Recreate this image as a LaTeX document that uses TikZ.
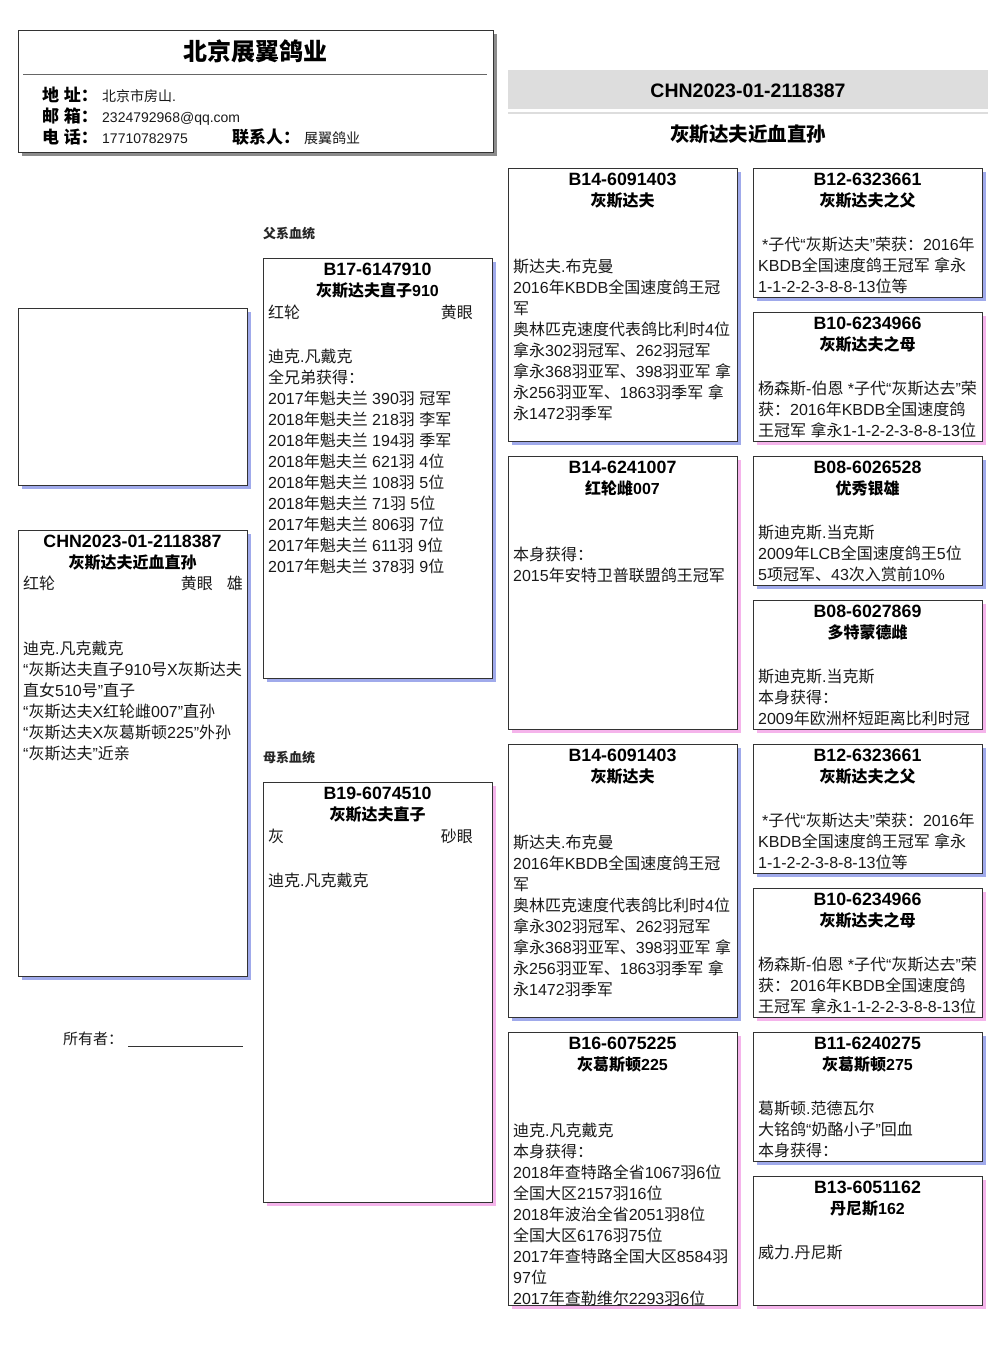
\documentclass[tikz,border=0pt]{standalone}
\usepackage{fontspec}
\setmainfont{Liberation Sans}
\newfontfamily\latinfont{Liberation Sans}
\newfontfamily\cjkfont{Noto Sans CJK SC}
\usetikzlibrary{positioning}

% ideographs and full-width marks go to the CJK face
\XeTeXinterchartokenstate=1
\newXeTeXintercharclass\cjkclass
\newcount\cjkcode
\newcommand{\cjkrange}[2]{%
  \cjkcode=#1
  \loop
    \XeTeXcharclass\cjkcode=\cjkclass
    \advance\cjkcode by 1
  \ifnum\cjkcode<#2 \repeat}
\cjkrange{"3000}{"3040}
\cjkrange{"4E00}{"A000}
\cjkrange{"FF00}{"FFF0}
\XeTeXinterchartoks 0 \cjkclass = {\cjkfont}
\XeTeXinterchartoks 4095 \cjkclass = {\cjkfont}
\XeTeXinterchartoks \cjkclass 0 = {\latinfont}
\XeTeXinterchartoks \cjkclass 4095 = {\latinfont}

\definecolor{sireshade}{HTML}{A0AAEB}
\definecolor{damshade}{HTML}{F5B4EB}
\definecolor{bandgrey}{HTML}{DDDDDD}

\tikzset{
  cardbox/.style={draw=black!80, fill=white, line width=0.8pt, minimum width=229pt, inner sep=0pt, outer sep=0pt},
  cardhead/.style={font=\bfseries\fontsize{16}{21}\selectfont, align=center, inner sep=0pt, anchor=north},
  cardbody/.style={font=\fontsize{16}{21}\selectfont, align=left, inner sep=0pt, anchor=north west, text=black!90},
  rowtext/.style={font=\fontsize{16}{21}\selectfont, inner sep=0pt, text=black!90},
  infolabel/.style={font=\bfseries\fontsize{17}{20}\selectfont, anchor=base west, inner sep=0pt},
  infovalue/.style={font=\fontsize{14}{17}\selectfont, anchor=base west, inner sep=0pt, text=black!90},
  linelabel/.style={font=\bfseries\fontsize{13}{16}\selectfont, anchor=base west, inner sep=0pt, text=black!85}
}

% name, x, y, height, shadow, ring, pigeon, body offset, body
\newcommand{\pedcard}[9]{%
  \fill[#5] (#2+4,#3+4) rectangle ++(229,#4);
  \node[cardbox, minimum height=#4pt, anchor=north west] (#1) at (#2,#3) {};
  \node[cardhead] (#1-head) at (#2+114.5,#3+2.7) {\strut{\fontsize{17.8}{21}\selectfont #6}\\#7};
  \node[cardbody] (#1-body) at (#2+5,#3+#8) {\strut #9};
}

\begin{document}
\begin{tikzpicture}[x=1pt, y=-1pt]
    \useasboundingbox (0,0) rectangle (1006,1366);

    % Loft header
    \fill[black!45] (22,34) rectangle (497,156);
    \node[draw=black!80, fill=white, line width=0.8pt, minimum width=475pt, minimum height=122pt, inner sep=0pt, anchor=north west] (loft) at (18,30) {};
    \node[font=\bfseries\fontsize{24}{28}\selectfont, anchor=base, inner sep=0pt] (loftname) at (255,60) {北京展翼鸽业};
    \draw[black!60, line width=0.8pt] (23,74) -- (487,74);
    \node[infolabel] (addrlabel) at (42,101) {地 址：};
    \node[infovalue] (addr) at (102,101) {北京市房山.};
    \node[infolabel] (maillabel) at (42,122) {邮 箱：};
    \node[infovalue] (mail) at (102,122) {2324792968@qq.com};
    \node[infolabel] (tellabel) at (42,143) {电 话：};
    \node[infovalue] (tel) at (102,143) {17710782975};
    \node[infolabel] (contactlabel) at (232,143) {联系人：};
    \node[infovalue] (contact) at (304,143) {展翼鸽业};

    % Ring number & title
    \fill[bandgrey] (508,70) rectangle (988,109);
    \node[font=\bfseries\fontsize{19.5}{24}\selectfont, anchor=base, inner sep=0pt] (ringno) at (748,97) {CHN2023-01-2118387};
    \draw[bandgrey, line width=2pt] (508,113) -- (988,113);
    \node[font=\bfseries\fontsize{19.5}{24}\selectfont, anchor=base, inner sep=0pt] (strain) at (748,141) {灰斯达夫近血直孙};

    % Photo & subject
    \fill[sireshade] (22,312) rectangle ++(229,177);
    \node[cardbox, minimum height=177pt, anchor=north west] (photo) at (18,308) {};
    \pedcard{self}{18}{530}{446}{sireshade}{CHN2023-01-2118387}{灰斯达夫近血直孙}{109.3}{迪克.凡克戴克\\“灰斯达夫直子910号X灰斯达夫\\直女510号”直子\\“灰斯达夫X红轮雌007”直孙\\“灰斯达夫X灰葛斯顿225”外孙\\“灰斯达夫”近亲}
    \node[rowtext, anchor=base west] (selfcolour) at (23,589) {红轮};
    \node[rowtext, anchor=base east] (selfeye) at (213,589) {黄眼};
    \node[rowtext, anchor=base east] (selfsex) at (243,589) {雄};
    \node[font=\fontsize{15}{18}\selectfont, anchor=base west, inner sep=0pt, text=black!90] (owner) at (63,1044) {所有者：};
    \draw[black!80, line width=0.6pt] (128,1046) -- (243,1046);

    % Parents
    \node[linelabel] (sireline) at (263,238) {父系血统};
    \pedcard{sire}{263}{258}{420}{sireshade}{B17-6147910}{灰斯达夫直子910}{89.4}{迪克.凡戴克\\全兄弟获得：\\2017年魁夫兰 390羽 冠军\\2018年魁夫兰 218羽 李军\\2018年魁夫兰 194羽 季军\\2018年魁夫兰 621羽 4位\\2018年魁夫兰 108羽 5位\\2018年魁夫兰 71羽 5位\\2017年魁夫兰 806羽 7位\\2017年魁夫兰 611羽 9位\\2017年魁夫兰 378羽 9位}
    \node[rowtext, anchor=base west] (sirecolour) at (268,318) {红轮};
    \node[rowtext, anchor=base east] (sireeye) at (473,318) {黄眼};
    \node[linelabel] (damline) at (263,762) {母系血统};
    \pedcard{dam}{263}{782}{420}{damshade}{B19-6074510}{灰斯达夫直子}{89.4}{迪克.凡克戴克}
    \node[rowtext, anchor=base west] (damcolour) at (268,842) {灰};
    \node[rowtext, anchor=base east] (dameye) at (473,842) {砂眼};

    % Grandparents
    \pedcard{ss}{508}{168}{273}{sireshade}{B14-6091403}{灰斯达夫}{89.4}{斯达夫.布克曼\\2016年KBDB全国速度鸽王冠\\军\\奥林匹克速度代表鸽比利时4位\\拿永302羽冠军、262羽冠军\\拿永368羽亚军、398羽亚军 拿\\永256羽亚军、1863羽季军 拿\\永1472羽季军}
    \pedcard{sd}{508}{456}{273}{damshade}{B14-6241007}{红轮雌007}{89.4}{本身获得：\\2015年安特卫普联盟鸽王冠军}
    \pedcard{ds}{508}{744}{273}{sireshade}{B14-6091403}{灰斯达夫}{89.4}{斯达夫.布克曼\\2016年KBDB全国速度鸽王冠\\军\\奥林匹克速度代表鸽比利时4位\\拿永302羽冠军、262羽冠军\\拿永368羽亚军、398羽亚军 拿\\永256羽亚军、1863羽季军 拿\\永1472羽季军}
    \pedcard{dd}{508}{1032}{273}{damshade}{B16-6075225}{灰葛斯顿225}{89.4}{迪克.凡克戴克\\本身获得：\\2018年查特路全省1067羽6位\\全国大区2157羽16位\\2018年波治全省2051羽8位\\全国大区6176羽75位\\2017年查特路全国大区8584羽\\97位\\2017年查勒维尔2293羽6位}

    % Great-grandparents
    \pedcard{sss}{753}{168}{129}{sireshade}{B12-6323661}{灰斯达夫之父}{67.3}{\hspace{4pt}*子代“灰斯达夫”荣获：2016年\\KBDB全国速度鸽王冠军 拿永\\1-1-2-2-3-8-8-13位等}
    \pedcard{ssd}{753}{312}{129}{damshade}{B10-6234966}{灰斯达夫之母}{67.3}{杨森斯-伯恩 *子代“灰斯达去”荣\\获：2016年KBDB全国速度鸽\\王冠军 拿永1-1-2-2-3-8-8-13位}
    \pedcard{sds}{753}{456}{129}{sireshade}{B08-6026528}{优秀银雄}{67.3}{斯迪克斯.当克斯\\2009年LCB全国速度鸽王5位\\5项冠军、43次入赏前10\%}
    \pedcard{sdd}{753}{600}{129}{damshade}{B08-6027869}{多特蒙德雌}{67.3}{斯迪克斯.当克斯\\本身获得：\\2009年欧洲杯短距离比利时冠}
    \pedcard{dss}{753}{744}{129}{sireshade}{B12-6323661}{灰斯达夫之父}{67.3}{\hspace{4pt}*子代“灰斯达夫”荣获：2016年\\KBDB全国速度鸽王冠军 拿永\\1-1-2-2-3-8-8-13位等}
    \pedcard{dsd}{753}{888}{129}{damshade}{B10-6234966}{灰斯达夫之母}{67.3}{杨森斯-伯恩 *子代“灰斯达去”荣\\获：2016年KBDB全国速度鸽\\王冠军 拿永1-1-2-2-3-8-8-13位}
    \pedcard{dds}{753}{1032}{129}{sireshade}{B11-6240275}{灰葛斯顿275}{67.3}{葛斯顿.范德瓦尔\\大铭鸽“奶酪小子”回血\\本身获得：}
    \pedcard{ddd}{753}{1176}{129}{damshade}{B13-6051162}{丹尼斯162}{67.3}{威力.丹尼斯}
\end{tikzpicture}
\end{document}
